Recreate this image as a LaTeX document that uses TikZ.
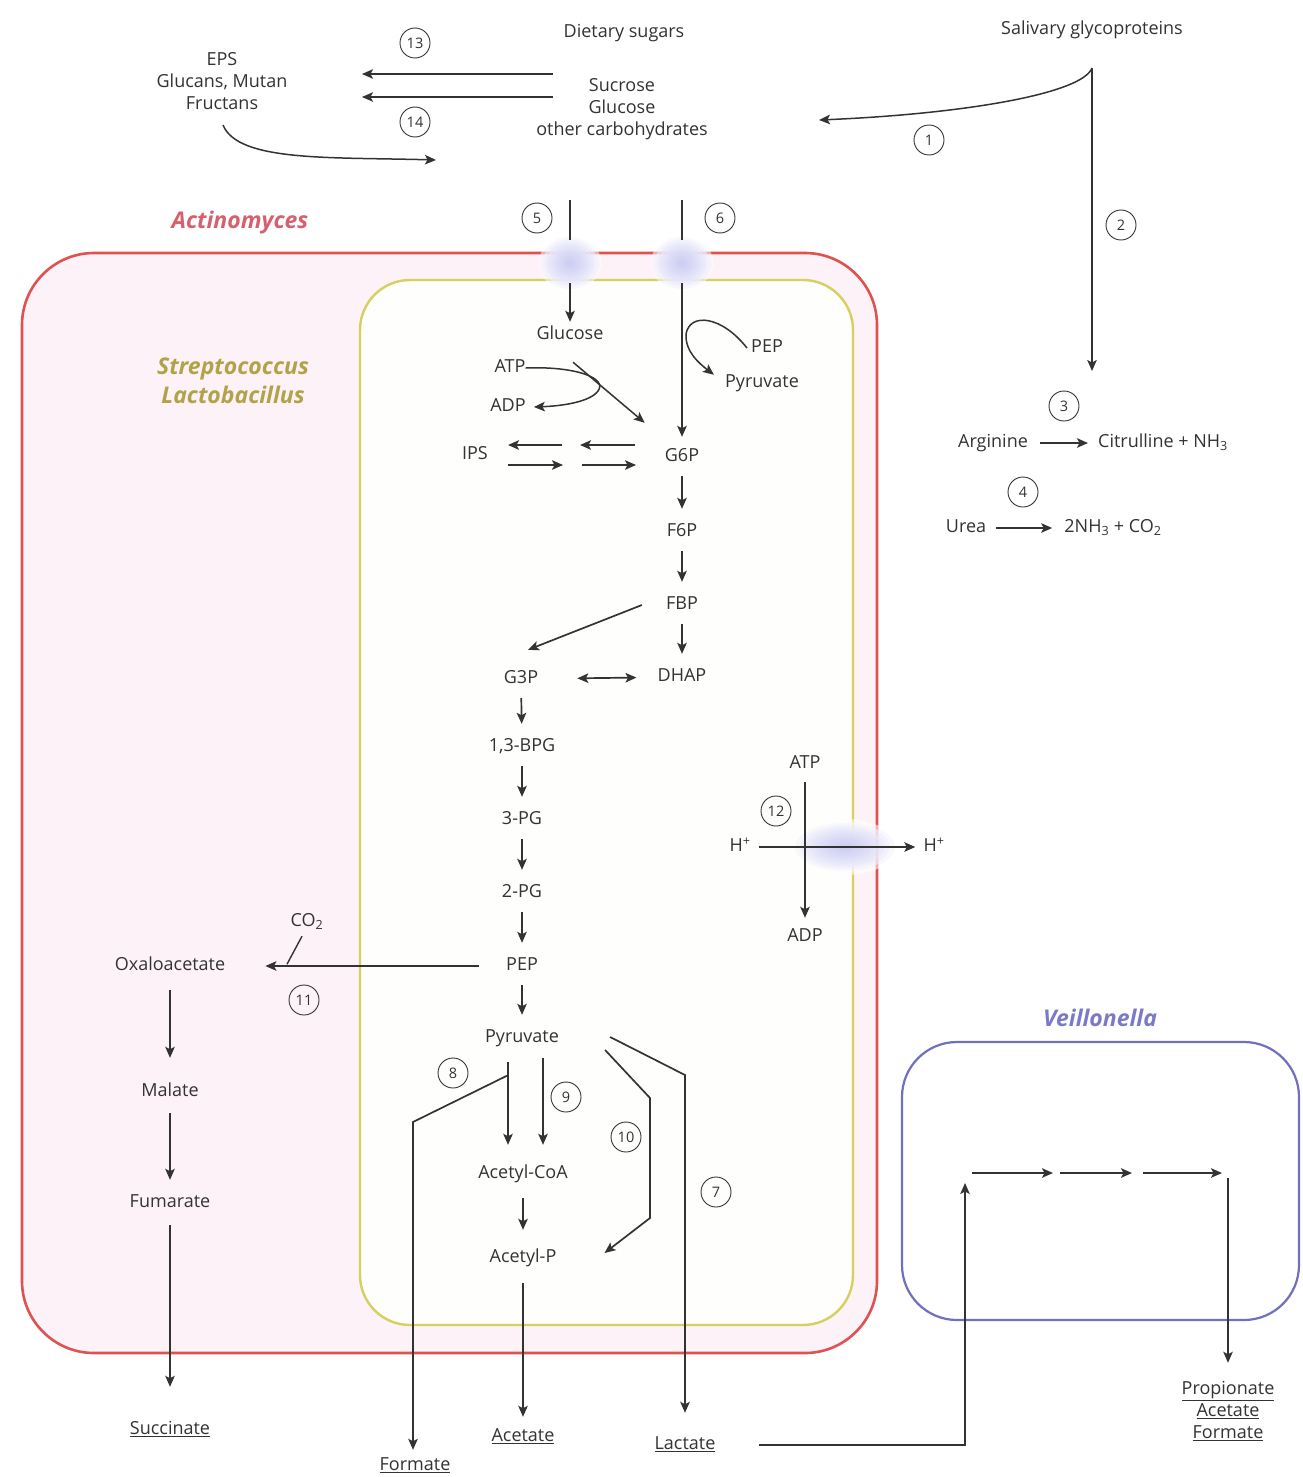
\documentclass[tikz,border=0pt]{standalone}
\usepackage{fontspec}
\setmainfont{Open Sans}
\usetikzlibrary{arrows.meta,calc}
\definecolor{ink}{RGB}{51,51,51}
\definecolor{actred}{RGB}{222,82,82}
\definecolor{actlab}{RGB}{214,96,110}
\definecolor{actfill}{RGB}{253,242,247}
\definecolor{strline}{RGB}{214,208,96}
\definecolor{strlab}{RGB}{178,162,72}
\definecolor{strfill}{RGB}{254,254,252}
\definecolor{veiline}{RGB}{112,112,190}
\definecolor{veilab}{RGB}{122,122,200}
\definecolor{blobc}{RGB}{172,172,240}
\begin{document}
\begin{tikzpicture}[x=1pt,y=-1pt,
  every node/.style={text=ink, font=\fontsize{18}{22}\selectfont},
  met/.style={inner sep=0pt, text height=12.5pt, text depth=3.5pt},
  num/.style={circle, draw=ink, line width=0.9pt, minimum size=30pt, inner sep=0pt,
              font=\fontsize{14.5}{15}\selectfont},
  tip/.tip={Stealth[length=11pt,width=9.5pt,inset=2.5pt]},
  arr/.style={draw=ink, line width=1.7pt, -tip},
  ln/.style={draw=ink, line width=1.7pt},
  chain/.style={arr, shorten <=11pt, shorten >=15pt},
  species/.style={font=\fontsize{23}{29}\selectfont\bfseries\itshape}]

% page
\fill[white] (0,0) rectangle (1302,1477);
\useasboundingbox (0,0) rectangle (1302,1477);

% cell envelopes
\draw[actred, line width=2.6pt, fill=actfill, rounded corners=72pt] (22,253) rectangle (877,1353);
\draw[strline, line width=2.4pt, fill=strfill, rounded corners=50pt] (360,280) rectangle (853,1325);
\draw[veiline, line width=2.2pt, rounded corners=55pt] (902,1042) rectangle (1299,1320);

% membrane transporters: soft gaps in the envelopes with a diffuse protein blob
\coordinate (tr5) at (570,263);
\coordinate (tr6) at (682,263);
\coordinate (trh) at (845,847);
\foreach \c in {tr5,tr6}{
  \foreach \k in {1,...,8}{\fill[white,opacity=0.55] (\c) ellipse ({3.9*\k} and {3.4*\k});}
  \foreach \k in {1,...,10}{\fill[blobc,opacity=0.075] (\c) ellipse ({3.0*\k} and {2.6*\k});}
}
\foreach \k in {1,...,8}{\fill[white,opacity=0.55] (trh) ellipse ({6.5*\k} and {3.5*\k});}
\foreach \k in {1,...,10}{\fill[blobc,opacity=0.075] (trh) ellipse ({5.0*\k} and {2.4*\k});}

% species labels
\node[species, text=actlab] (act) at (240,223) {Actinomyces};
\node[species, text=strlab, align=center] (strep) at (233,381) {Streptococcus\\Lactobacillus};
\node[species, text=veilab] (veil) at (1100,1018) {Veillonella};

% outside: sugars and salivary substrates
\node (diet) at (624,33) {Dietary sugars};
\node[align=center] (sug) at (622,109) {Sucrose\\Glucose\\other carbohydrates};
\node[align=center] (eps) at (222,81) {EPS\\Glucans, Mutan\\Fructans};
\node (sal) at (1092,30) {Salivary glycoproteins};

\node[num] (c13) at (415,43) {13};
\node[num] (c14) at (415,122) {14};
\node[num] (c1) at (929,140) {1};
\node[num] (c2) at (1121,225) {2};
\node[num] (c3) at (1064,406) {3};
\node[num] (c4) at (1023,492) {4};
\node[num] (c5) at (537,218) {5};
\node[num] (c6) at (720,218) {6};
\node[num] (c12) at (776,811) {12};
\node[num] (c11) at (304,1000) {11};
\node[num] (c8) at (453,1073) {8};
\node[num] (c9) at (566,1097) {9};
\node[num] (c10) at (626,1137) {10};
\node[num] (c7) at (716,1192) {7};

\coordinate (a13s) at (553,74);  \coordinate (a13e) at (362,74);
\coordinate (a14s) at (553,97);  \coordinate (a14e) at (362,97);
\draw[arr] (a13s) -- (a13e);
\draw[arr] (a14s) -- (a14e);
\coordinate (epsout) at (223,125);
\coordinate (epsin) at (436,160);
\draw[ln, line width=1.5pt, -tip] (epsout) .. controls (238,162) and (330,157) .. (epsin);

\coordinate (sj) at (1092,68);
\coordinate (s1e) at (819,120);
\coordinate (s2e) at (1092,371);
\draw[arr, line width=1.5pt] (sj) .. controls (1082,94) and (962,114) .. (s1e);
\draw[arr, line width=1.5pt] (sj) -- (s2e);

\node[met] (arg) at (993,443) {Arginine};
\node[met] (cit) at (1163,443) {Citrulline + NH\textsubscript{3}};
\draw[arr, shorten <=12pt, shorten >=10pt] (arg) -- (cit);
\node[met] (urea) at (966,528) {Urea};
\node[met] (nh) at (1113,528) {2NH\textsubscript{3} + CO\textsubscript{2}};
\draw[arr, shorten <=10pt, shorten >=12pt] (urea) -- (nh);

% uptake
\coordinate (in5) at (570,200);
\coordinate (in6) at (682,200);
\draw[ln] (in5) -- ($(tr5)+(0,-23)$);
\draw[ln] (in6) -- ($(tr6)+(0,-23)$);

% glycolysis
\node[met] (glucose) at (570,335) {Glucose};
\node[met] (atp) at (510,368) {ATP};
\node[met] (adp) at (508,407) {ADP};
\node[met] (pepa) at (767,348) {PEP};
\node[met] (pyra) at (762,383) {Pyruvate};
\node[met] (g6p) at (682,457) {G6P};
\node[met] (ips) at (475,455) {IPS};
\node[met] (f6p) at (682,532) {F6P};
\node[met] (fbp) at (682,605) {FBP};
\node[met] (dhap) at (682,677) {DHAP};
\node[met] (g3p) at (521,679) {G3P};
\node[met] (bpg) at (522,747) {1,3-BPG};
\node[met] (pg3) at (522,820) {3-PG};
\node[met] (pg2) at (522,893) {2-PG};
\node[met] (pep) at (522,966) {PEP};
\node[met] (pyr) at (522,1038) {Pyruvate};

\draw[arr, shorten <=20pt, shorten >=5pt] (tr5) -- (glucose);
\draw[arr, shorten <=20pt, shorten >=12pt] (tr6) -- (g6p);
\draw[arr, line width=1.5pt] ([xshift=-4pt]pepa.west) .. controls (722,316) and (690,312) .. (686,334)
   .. controls (685,352) and (700,364) .. ([xshift=-11pt]pyra.north west);
\draw[arr, line width=1.5pt] (atp.east) .. controls (575,366) and (608,378) .. (598,391)
   .. controls (590,402) and (562,406) .. ([xshift=8pt]adp.east);
\draw[arr, line width=1.5pt] ($(glucose.south)+(3,19)$) -- ($(g6p.north west)+(-20,-26)$);

\path (635,445) coordinate (ip1) (580,445) coordinate (ip2)
      (562,445) coordinate (ip3) (508,445) coordinate (ip4)
      (508,465) coordinate (ip5) (563,465) coordinate (ip6)
      (582,465) coordinate (ip7) (636,465) coordinate (ip8);
\draw[arr] (ip1) -- (ip2);
\draw[arr] (ip3) -- (ip4);
\draw[arr] (ip5) -- (ip6);
\draw[arr] (ip7) -- (ip8);

\draw[chain] (g6p) -- (f6p);
\draw[chain] (f6p) -- (fbp);
\draw[chain] (fbp) -- (dhap);
\draw[arr] ($(fbp.west)+(-24,0)$) -- ($(g3p.north)+(7,-21)$);
\draw[draw=ink, line width=1.7pt, tip-tip, shorten <=39pt, shorten >=21pt] (g3p) -- (dhap);
\draw[chain] (g3p) -- (bpg);
\draw[chain] (bpg) -- (pg3);
\draw[chain] (pg3) -- (pg2);
\draw[chain] (pg2) -- (pep);
\draw[chain] (pep) -- (pyr);

% anaplerotic branch (Actinomyces)
\node[met] (oaa) at (170,966) {Oxaloacetate};
\node[met] (mal) at (170,1092) {Malate};
\node[met] (fum) at (170,1203) {Fumarate};
\node[met] (suc) at (170,1430) {\underline{Succinate}};
\node[met] (co2) at (307,922) {CO\textsubscript{2}};
\draw[arr, shorten <=27pt, shorten >=40pt] (pep) -- (oaa);
\draw[ln, line width=1.4pt] ($(co2.south)+(-5,6)$) -- ($(co2.south)+(-20,34)$);
\draw[arr, shorten <=16pt, shorten >=26pt] (oaa) -- (mal);
\draw[arr, shorten <=13pt, shorten >=15pt] (mal) -- (fum);
\draw[arr, shorten <=14pt, shorten >=35pt] (fum) -- (suc);

% pyruvate fates
\node[met] (acoa) at (523,1174) {Acetyl-CoA};
\node[met] (acp) at (523,1258) {Acetyl-P};
\node[met] (ace) at (523,1437) {\underline{Acetate}};
\node[met] (form) at (415,1466) {\underline{Formate}};
\node[met] (lac) at (685,1445) {\underline{Lactate}};

\draw[arr] ($(pyr.south)+(-14,16)$) -- ($(acoa.north)+(-15,-21)$);
\coordinate (fk) at (413,1122);
\draw[arr, shorten >=8pt] ($(pyr.south)+(-14,29)$) -- (fk) -- (fk |- form.north);
\draw[arr] ($(pyr.south)+(21,12)$) -- ($(acoa.north)+(20,-21)$);
\draw[arr, shorten <=16pt, shorten >=20pt] (acoa) -- (acp);
\draw[arr, shorten <=17pt, shorten >=12pt] (acp) -- (ace);
\coordinate (k10a) at (650,1098);
\coordinate (k10b) at (650,1218);
\draw[arr] ($(pyr.east)+(46,12)$) -- (k10a) -- (k10b) -- ($(acp.east)+(48,-5)$);
\coordinate (k7) at (685,1075);
\draw[arr, shorten >=24pt] ($(pyr.east)+(51,-1)$) -- (k7) -- (lac);

% proton pump
\node[met] (atp2) at (805,764) {ATP};
\node[met] (adp2) at (805,937) {ADP};
\node[met] (hin) at (740,847) {H\textsuperscript{+}};
\node[met] (hout) at (934,847) {H\textsuperscript{+}};
\draw[arr, shorten <=10pt, shorten >=11pt] (atp2) -- (adp2);
\draw[arr, shorten <=8pt, shorten >=8pt] (hin) -- (hout);

% Veillonella
\coordinate (vin) at (965,1183);
\draw[arr, shorten <=43pt] (lac.east) -| (vin);
\path (972,1173) coordinate (v1) (1053,1173) coordinate (v2)
      (1060,1173) coordinate (v3) (1132,1173) coordinate (v4)
      (1143,1173) coordinate (v5) (1222,1173) coordinate (v6)
      (1228,1178) coordinate (vout);
\draw[arr, line width=1.5pt] (v1) -- (v2);
\draw[arr, line width=1.5pt] (v3) -- (v4);
\draw[arr, line width=1.5pt] (v5) -- (v6);
\node[align=center] (prod) at (1228,1411) {\underline{Propionate}\\\underline{Acetate}\\\underline{Formate}};
\draw[arr, line width=1.5pt, shorten >=15pt] (vout) -- (prod);
\end{tikzpicture}
\end{document}
